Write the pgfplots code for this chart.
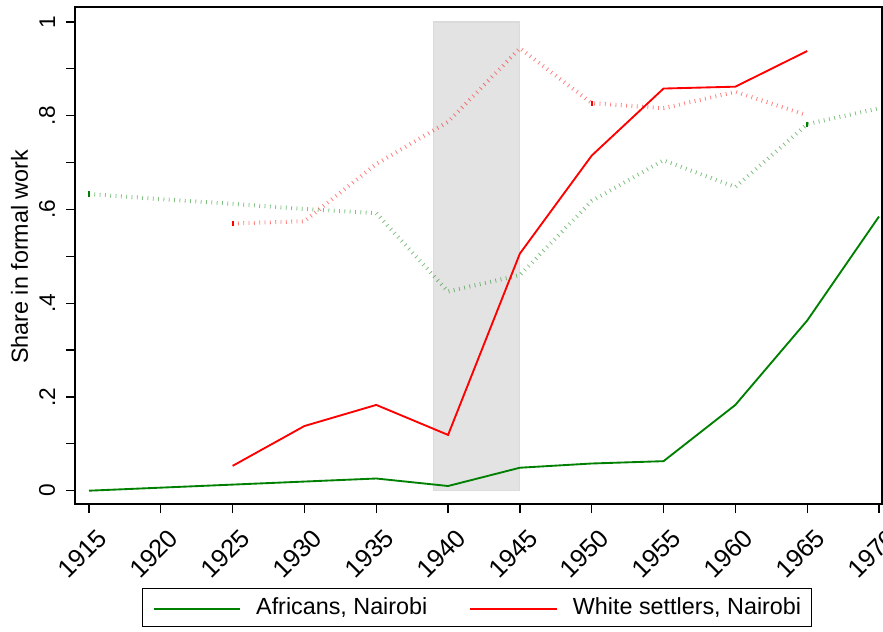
\documentclass[border=0pt]{standalone}
\usepackage{fontspec}
\setmainfont{Liberation Sans}
\usepackage{pgfplots}
\pgfplotsset{compat=1.18}
\definecolor{sgreen}{RGB}{0,128,0}
\definecolor{sred}{RGB}{255,0,0}
\begin{document}
\begin{tikzpicture}[font=\fontsize{17.5}{21}\selectfont]
\begin{axis}[
  scale only axis, width=605.25pt, height=372.75pt,
  xmin=1914.025, xmax=1970.21, ymin=-0.0284, ymax=1.032,
  axis line style={line width=1.1pt},
  xtick={1915,1920,1925,1930,1935,1940,1945,1950,1955,1960,1965,1970},
  xticklabels={1915,1920,1925,1930,1935,1940,1945,1950,1955,1960,1965,1970},
  ytick={0,0.2,0.4,0.6,0.8,1},
  yticklabels={0,.2,.4,.6,.8,1},
  minor ytick={0.1,0.3,0.5,0.7,0.9},
  xtick pos=left, ytick pos=left,
  tick align=outside,
  major tick length=6.75pt, minor tick length=6.75pt,
  tick style={black, line width=0.9pt},
  xticklabel style={font=\fontsize{19}{23}\selectfont, rotate=45, anchor=north east, inner sep=0pt, xshift=-4pt, yshift=-11pt},
  yticklabel style={font=\fontsize{17}{20}\selectfont, rotate=90, anchor=south, inner sep=8pt},
  ylabel={Share in formal work},
  ylabel style={font=\fontsize{17.5}{21}\selectfont, inner sep=0pt, xshift=-1pt},
  legend columns=2,
  legend style={at={(0.498,-0.169)}, anchor=north, draw=black, line width=0.8pt,
    inner xsep=7.5pt, inner ysep=5pt,
    nodes={inner xsep=0pt, inner ysep=2pt, anchor=base west, font=\fontsize{17.5}{21}\selectfont},
    /tikz/every odd column/.append style={column sep=11.25pt},
    /tikz/every even column/.append style={column sep=31.5pt}},
  legend image code/.code={\draw[#1, line width=1.4pt] (0pt,4.5pt) -- (65pt,4.5pt);},
  dotstyle/.style={line width=3pt, dash pattern=on 0.6pt off 3.4pt, opacity=0.5,
    mark=|, mark size=1.9pt, mark options={solid, opacity=1, line width=1.3pt}},
]
\coordinate (bl) at (rel axis cs:0,0);
\coordinate (tr) at (rel axis cs:1,1);

\addplot[fill=black!11, draw=black!14, line width=0.8pt, forget plot]
  coordinates {(1939,0) (1945,0) (1945,1) (1939,1)} -- cycle;

% Green dotted
\addplot[sgreen, dotstyle, mark indices={1,11}, forget plot] coordinates {
(1915,0.633) (1920,0.622) (1925,0.612) (1930,0.601) (1935,0.592) (1940,0.425)
(1945,0.460) (1950,0.618) (1955,0.705) (1960,0.648) (1965,0.782) (1970,0.816)};

% Red dotted
\addplot[sred, dotstyle, mark indices={1,6}, forget plot] coordinates {
(1925,0.570) (1930,0.575) (1935,0.697) (1940,0.787) (1945,0.944) (1950,0.827)
(1955,0.816) (1960,0.851) (1965,0.801)};

% Africans, Nairobi
\addplot[sgreen, line width=1.4pt, no markers] coordinates {
(1915,0.000) (1920,0.0065) (1925,0.013) (1930,0.0195) (1935,0.026) (1940,0.010)
(1945,0.049) (1950,0.058) (1955,0.063) (1960,0.183) (1965,0.363) (1970,0.585)};
\addlegendentry{Africans, Nairobi}

% White settlers, Nairobi
\addplot[sred, line width=1.4pt, no markers] coordinates {
(1925,0.053) (1930,0.138) (1935,0.183) (1940,0.119) (1945,0.506) (1950,0.715)
(1955,0.858) (1960,0.862) (1965,0.938)};
\addlegendentry{White settlers, Nairobi\hspace{9pt}}
\end{axis}
\pgfresetboundingbox
\path[use as bounding box] ([shift={(-56.25pt,-95.25pt)}]bl) rectangle ([shift={(0.75pt,5.25pt)}]tr);
\end{tikzpicture}
\end{document}
